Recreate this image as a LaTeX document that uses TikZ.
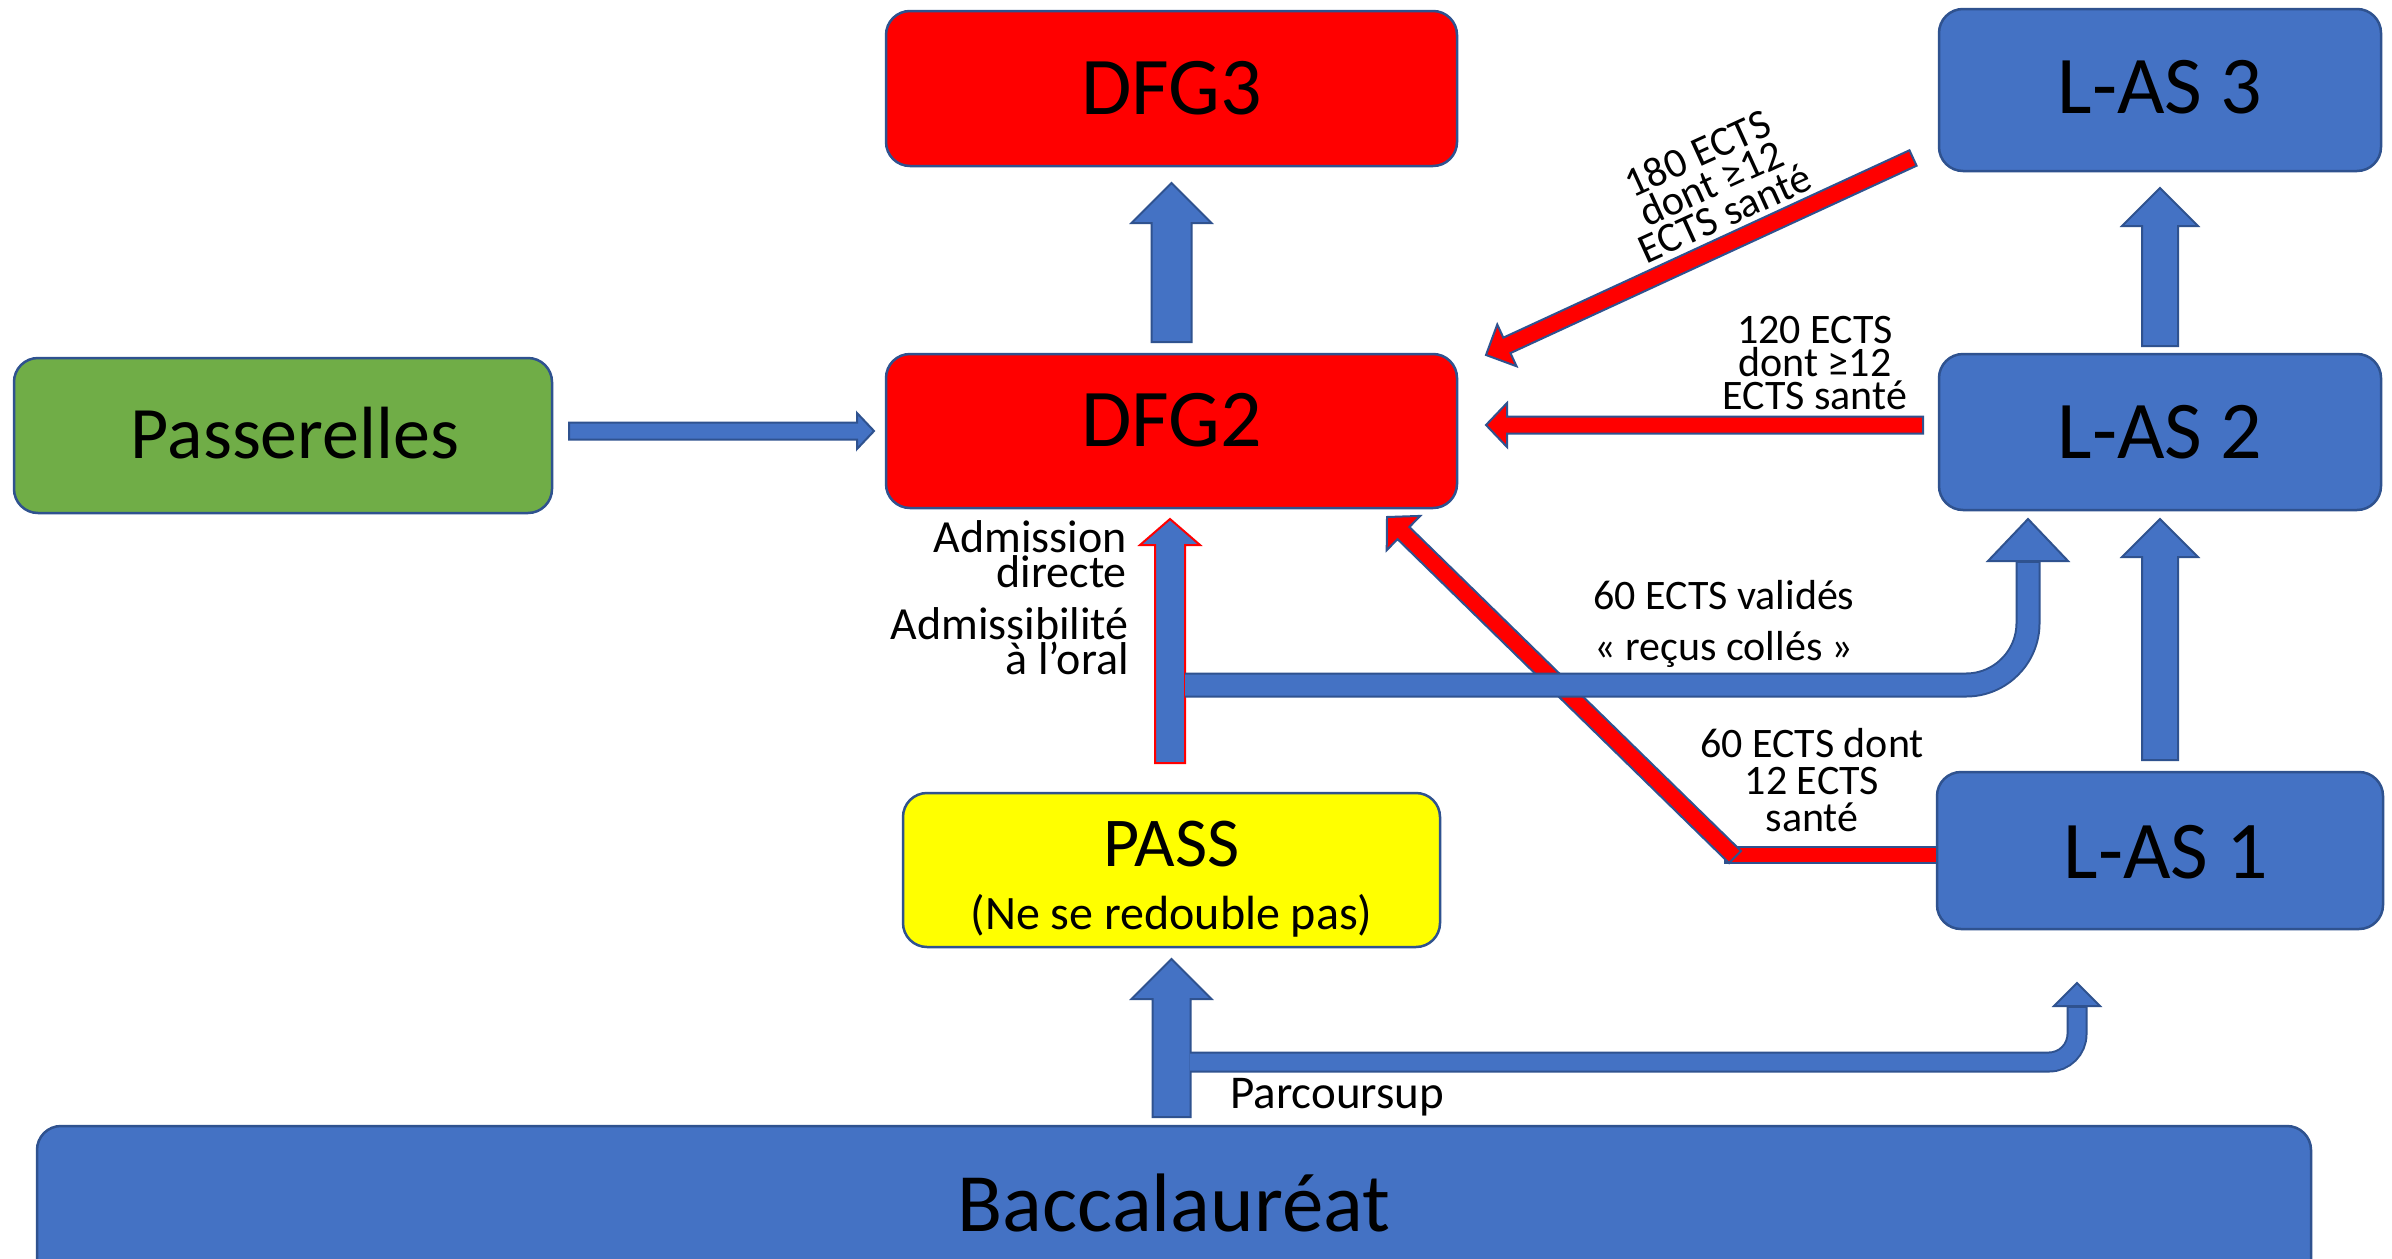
\documentclass[tikz,border=0pt]{standalone}
\usepackage{fontspec}
\setmainfont{Carlito}
\usetikzlibrary{calc}
\definecolor{bfill}{HTML}{4472C4}
\definecolor{bline}{HTML}{2F528F}
\definecolor{rfill}{HTML}{FF0000}
\definecolor{gfill}{HTML}{70AD47}
\definecolor{yfill}{HTML}{FFFF00}
\newcommand\blockarr[6]{%
  \coordinate (baS) at #2;
  \coordinate (baE) at #3;
  \coordinate (baB) at ($(baE)!#6!(baS)$);
  \filldraw[#1] ($(baS)!#4!90:(baE)$) -- ($(baB)!#4!-90:(baS)$) -- ($(baB)!#5!-90:(baS)$) -- (baE) -- ($(baB)!#5!90:(baS)$) -- ($(baB)!#4!90:(baS)$) -- ($(baS)!#4!-90:(baE)$) -- cycle;
}
\tikzset{
  box/.style={draw=bline, line width=2.5pt, rounded corners=24pt, inner sep=0pt, outer sep=0pt, font=\fontsize{82}{90}\selectfont},
  barrow/.style={fill=bfill, draw=bline, line width=2pt, line join=miter},
  rarrow/.style={fill=rfill, draw=bline, line width=2pt, line join=miter},
  lbl/.style={font=\fontsize{42}{33}\selectfont, align=center, inner sep=0pt},
  lblL/.style={font=\fontsize{46}{35}\selectfont, align=right, inner sep=0pt},
}
\begin{document}
\begin{tikzpicture}[x=1pt, y=-1pt]
\useasboundingbox (0,0) rectangle (2392,1258);
\clip (0,0) rectangle (2392,1258);
\fill[white] (0,0) rectangle (2392,1258);

% boxes
\node[box, fill=rfill, minimum width=571pt, minimum height=155pt] (dfg3) at (1171.5,88.5) {DFG3};
\node[box, fill=rfill, minimum width=571pt, minimum height=154pt] (dfg2) at (1171.5,431) {};
\node[inner sep=0pt, font=\fontsize{82}{90}\selectfont] (dfg2t) at (1171.5,420) {DFG2};
\node[box, fill=gfill, minimum width=538pt, minimum height=155pt] (passe) at (283,435.5) {};
\node[inner sep=0pt, font=\fontsize{74}{90}\selectfont] (passet) at (295,433) {Passerelles};
\node[box, fill=bfill, minimum width=442pt, minimum height=162pt] (las3) at (2160,90) {};
\node[inner sep=0pt, font=\fontsize{82}{90}\selectfont] (las3t) at (2160,87) {L-AS 3};
\node[box, fill=bfill, minimum width=442pt, minimum height=156pt] (las2) at (2160,432) {L-AS 2};
\node[box, fill=bfill, minimum width=446pt, minimum height=157pt] (las1) at (2160,850.5) {};
\node[inner sep=0pt, font=\fontsize{82}{90}\selectfont] (las1t) at (2166,852) {L-AS 1};
\node[box, fill=yfill, minimum width=537pt, minimum height=154pt] (pass) at (1171.5,870) {};
\node[anchor=base, inner sep=0pt, font=\fontsize{70}{80}\selectfont] (passt) at (1171.5,866) {PASS};
\node[anchor=base, inner sep=0pt, font=\fontsize{48}{56}\selectfont] (passn) at (1171.5,929) {(Ne se redouble pas)};
\node[box, fill=bfill, minimum width=2274pt, minimum height=300pt] (bac) at (1174,1276) {};
\node[anchor=base, inner sep=0pt, font=\fontsize{83}{90}\selectfont] (bact) at (1174,1231) {Baccalauréat};

% straight blue arrows
\blockarr{barrow}{($(dfg2.north)+(0,-12)$)}{($(dfg3.south)+(0,17)$)}{20pt}{40pt}{40pt}
\blockarr{barrow}{($(las2.north)+(0,-8)$)}{($(las3.south)+(0,17)$)}{18pt}{38pt}{38pt}
\blockarr{barrow}{($(las1.north)+(0,-12)$)}{($(las2.south)+(0,9)$)}{18pt}{38pt}{38pt}
\blockarr{barrow}{($(pass.south |- bac.north)+(0,-9)$)}{($(pass.south)+(0,12)$)}{19pt}{40pt}{40pt}
\blockarr{barrow}{($(passe.east |- dfg2.west)+(17,0)$)}{($(dfg2.west)+(-12,0)$)}{8.5pt}{18pt}{17pt}

% red arrows
\blockarr{rarrow}{($(las2.west)+(-16,-7)$)}{($(dfg2.east)+(29,-6)$)}{8.5pt}{22pt}{21pt}
\blockarr{rarrow}{($(las3.west)+(-26,68)$)}{($(dfg2.north east)+(29,1)$)}{8.5pt}{23pt}{23pt}
\filldraw[rarrow] ($(las1.west)+(0,-4)$) rectangle ($(las1.west)+(-212,12)$);
\blockarr{rarrow}{($(las1.west)+(-202,6.5)$)}{($(dfg2.south east)+(-70,9)$)}{8.5pt}{24pt}{23pt}

% PASS -> DFG2 (blue, red outline)
\blockarr{barrow, draw=rfill}{($(pass.north)+(-1.5,-30)$)}{($(dfg2.south)+(-1.5,11)$)}{15pt}{30pt}{26pt}

% bent arrow PASS -> L-AS 2
\coordinate (g0) at ($(dfg2.south)+(13.5,177)$);
\coordinate (g1) at ($(las2.south)+(-132,9)$);
\draw[bline, line width=25pt, rounded corners=62pt] (g0) -| ($(g1)+(0,40)$);
\filldraw[barrow] ($(g1)+(-40,42)$) -- (g1) -- ($(g1)+(40,42)$) -- cycle;
\draw[bfill, line width=21pt, rounded corners=62pt] (g0) -| ($(g1)+(0,44)$);

% bent arrow Parcoursup -> L-AS 1
\coordinate (h0) at ($(pass.south)+(18.5,115)$);
\coordinate (h1) at ($(las1.south)+(-83,54)$);
\draw[bline, line width=21pt, rounded corners=28pt] (h0) -| ($(h1)+(0,22)$);
\filldraw[barrow] ($(h1)+(-23,23)$) -- (h1) -- ($(h1)+(23,23)$) -- cycle;
\draw[bfill, line width=17pt, rounded corners=28pt] (h0) -| ($(h1)+(0,25)$);

% labels
\node[lblL, anchor=east] (ladm) at (1127,554) {Admission\\directe};
\node[lblL, anchor=east] (ladms) at (1129,641) {Admissibilité\\à l’oral};
\node[lbl] (l120) at (1815,363) {120 ECTS\\dont ≥12\\ECTS santé};
\node[lbl, rotate=24.5] (l180) at (1711,183) {180 ECTS\\dont ≥12\\ECTS santé};
\node[lbl, anchor=base] (l60a) at (1724,609) {60 ECTS validés};
\node[lbl, anchor=base] (l60b) at (1724,660) {« reçus collés »};
\node[lbl, font=\fontsize{42}{37}\selectfont] (l60c) at (1812,780) {60 ECTS dont\\12 ECTS\\santé};
\node[anchor=base west, inner sep=0pt, font=\fontsize{47}{50}\selectfont] (lpar) at (1230,1108) {Parcoursup};
\end{tikzpicture}
\end{document}
